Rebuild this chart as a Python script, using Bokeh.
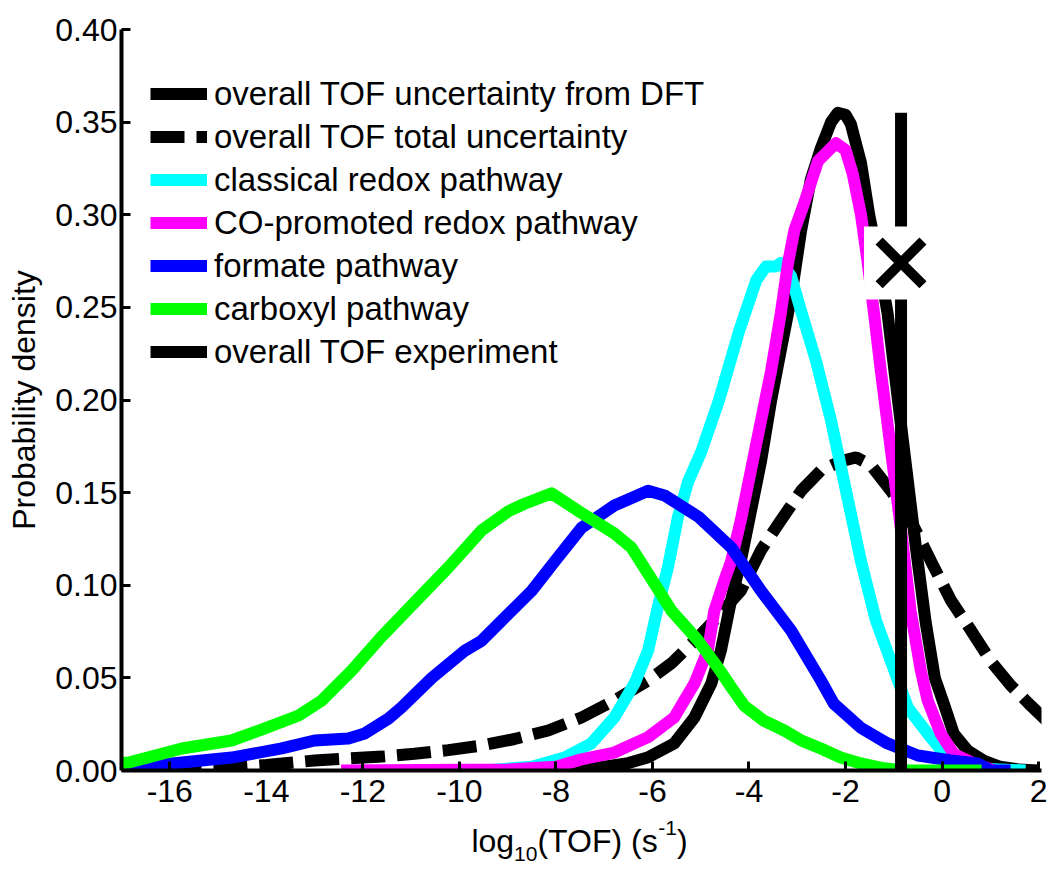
from bokeh.plotting import figure
from bokeh.layouts import column
from bokeh.models import (Range1d, FixedTicker, NumeralTickFormatter, Legend,
                          LegendItem)
from bokeh.core.properties import value
from bokeh.embed import file_html
from bokeh.resources import INLINE

FONT = "Liberation Sans"

# Probability densities over log10(TOF)
dft_x = [-9.0, -7.5, -7.0, -6.5, -6.1, -5.55, -5.13, -4.78, -4.58, -4.44, -4.37,
         -4.17, -3.96, -3.75, -3.54, -3.34, -3.13, -2.92, -2.72, -2.51, -2.3,
         -2.16, -2.0, -1.89, -1.68, -1.51, -1.31, -1.13, -0.96, -0.75, -0.54,
         -0.34, -0.15, 0.05, 0.24, 0.53, 0.86, 1.2, 1.6, 2.0]
dft_y = [0.0, 0.001, 0.002, 0.004, 0.007, 0.0146, 0.0286, 0.047, 0.065, 0.083, 0.092,
         0.113, 0.14, 0.167, 0.2, 0.227, 0.255, 0.2916, 0.319, 0.336, 0.35,
         0.355, 0.354, 0.349, 0.328, 0.30, 0.274, 0.247, 0.21, 0.165, 0.12,
         0.08, 0.05, 0.035, 0.02, 0.0108, 0.0054, 0.002, 0.0005, 0.0]

total_x = [-17.0, -15.0, -14.0, -13.0, -12.3, -11.6, -10.93, -10.23, -9.54, -8.86,
           -8.16, -7.47, -6.79, -6.09, -5.61, -5.05, -4.72, -4.17, -3.75, -3.34,
           -2.92, -2.51, -2.09, -1.78, -1.48, -1.06, -0.65, -0.23, 0.18, 0.6,
           1.01, 1.42, 1.84, 2.2]
total_y = [0.0, 0.001, 0.003, 0.0054, 0.0065, 0.0075, 0.009, 0.011, 0.0135, 0.017,
           0.0216, 0.0286, 0.0378, 0.0486, 0.0578, 0.072, 0.081, 0.097, 0.119, 0.135,
           0.151, 0.162, 0.167, 0.169, 0.165, 0.151, 0.135, 0.113, 0.092, 0.0756,
           0.059, 0.046, 0.035, 0.026]

classical_x = [-9.5, -8.5, -7.82, -7.27, -6.79, -6.37, -6.09, -5.89, -5.68, -5.47,
               -5.26, -4.99, -4.62, -4.2, -3.85, -3.65, -3.45, -3.34, -3.13, -2.92,
               -2.61, -2.3, -1.99, -1.68, -1.37, -1.06, -0.71, -0.3, 0.04, 0.39,
               0.8, 1.73]
classical_y = [0.0, 0.002, 0.007, 0.0146, 0.0286, 0.047, 0.0648, 0.088, 0.1096, 0.137,
               0.156, 0.172, 0.2, 0.2376, 0.2646, 0.272, 0.272, 0.274, 0.267, 0.248,
               0.221, 0.189, 0.151, 0.113, 0.081, 0.059, 0.034, 0.02, 0.009, 0.004,
               0.001, 0.0]

co_x = [-12.45, -9.0, -8.0, -7.47, -6.79, -6.09, -5.55, -5.13, -4.85, -4.72, -4.51,
        -4.37, -4.17, -3.96, -3.75, -3.54, -3.34, -3.19, -3.06, -2.86, -2.57, -2.2,
        -2.0, -1.85, -1.68, -1.54, -1.41, -1.27, -1.06, -0.85, -0.65, -0.44, -0.3,
        -0.03, 0.24, 0.65, 1.07]
co_y = [0.0, 0.0005, 0.002, 0.006, 0.0097, 0.018, 0.0286, 0.047, 0.065, 0.086, 0.1026,
        0.113, 0.135, 0.162, 0.189, 0.216, 0.247, 0.274, 0.2916, 0.306, 0.329, 0.3386,
        0.335, 0.322, 0.30, 0.274, 0.247, 0.216, 0.173, 0.13, 0.086, 0.054, 0.038,
        0.02, 0.009, 0.004, 0.0]

formate_x = [-17.0, -15.75, -14.72, -13.68, -13.0, -12.3, -11.96, -11.47, -11.2,
             -10.57, -9.88, -9.54, -9.12, -8.5, -8.02, -7.47, -6.79, -6.09, -5.75,
             -5.05, -4.37, -3.75, -3.13, -2.51, -2.24, -1.68, -1.13, -0.5, 0.18,
             0.74, 1.0, 1.42]
formate_y = [0.001, 0.0043, 0.007, 0.0119, 0.0162, 0.0173, 0.02, 0.028, 0.034,
             0.05, 0.0648, 0.07, 0.081, 0.097, 0.113, 0.131, 0.143, 0.151, 0.1485,
             0.137, 0.1205, 0.097, 0.0756, 0.0486, 0.036, 0.023, 0.0146, 0.0081, 0.0054,
             0.0038, 0.0, 0.0]

carboxyl_x = [-17.0, -16.85, -15.75, -14.72, -14.03, -13.33, -12.85, -12.23, -11.62,
              -10.93, -10.23, -9.54, -8.98, -8.65, -8.09, -7.47, -6.79, -6.44, -5.96,
              -5.61, -5.05, -4.6, -4.37, -4.1, -3.7, -3.27, -2.9, -2.51, -2.1, -1.68,
              -1.2, -0.8, 0.82]
carboxyl_y = [0.004, 0.0043, 0.0119, 0.0162, 0.0227, 0.0297, 0.0378, 0.054, 0.072,
              0.0907, 0.1096, 0.1296, 0.14, 0.144, 0.1496, 0.139, 0.128, 0.1205, 0.101,
              0.0864, 0.07, 0.054, 0.045, 0.035, 0.027, 0.0216, 0.016, 0.0119, 0.007,
              0.0038, 0.0012, 0.0, 0.0]

# Experimental TOF
exp_log_tof = -0.85
exp_line_top = 0.355
exp_marker_y = 0.274

x_ticks = [-16, -14, -12, -10, -8, -6, -4, -2, 0, 2]
y_ticks = [0.0, 0.05, 0.10, 0.15, 0.20, 0.25, 0.30, 0.35, 0.40]

legend_labels = ["overall TOF uncertainty from DFT",
                 "overall TOF total uncertainty",
                 "classical redox pathway",
                 "CO-promoted redox pathway",
                 "formate pathway",
                 "carboxyl pathway",
                 "overall TOF experiment"]

W = 1051
H1 = 816
p = figure(width=W, height=H1, x_range=Range1d(-17, 2.06), y_range=Range1d(0, 0.40),
           output_backend="svg", toolbar_location=None, frame_align=False,
           min_border_left=121, min_border_right=10, min_border_top=29,
           min_border_bottom=H1 - 770)
p.background_fill_color = "white"
p.border_fill_color = "white"
p.outline_line_color = None
p.xgrid.visible = False
p.ygrid.visible = False

for ax in (p.xaxis[0], p.yaxis[0]):
    ax.axis_line_width = 4
    ax.axis_line_color = "black"
    ax.major_tick_line_width = 3
    ax.major_tick_line_color = "black"
    ax.major_tick_in = 9
    ax.major_tick_out = 0
    ax.minor_tick_in = 0
    ax.minor_tick_out = 0
    ax.major_label_text_font = FONT
    ax.major_label_text_font_size = "32px"
    ax.major_label_text_color = "black"

p.xaxis.ticker = FixedTicker(ticks=x_ticks)
p.xaxis.major_label_overrides = {t: str(t) for t in x_ticks}
p.yaxis.ticker = FixedTicker(ticks=y_ticks)
p.yaxis.formatter = NumeralTickFormatter(format="0.00")
p.xaxis.major_label_standoff = 9
p.yaxis.major_label_standoff = 4
p.yaxis.axis_label = "Probability density"
p.yaxis.axis_label_text_font = FONT
p.yaxis.axis_label_text_font_size = "32px"
p.yaxis.axis_label_text_font_style = "normal"
p.yaxis.axis_label_text_color = "black"
p.yaxis.axis_label_standoff = 10

LW = 12
r_dft = p.line(dft_x, dft_y, line_color="black", line_width=LW, line_join="round")
r_tot = p.line(total_x, total_y, line_color="black", line_width=LW, line_dash="34 12")
r_cls = p.line(classical_x, classical_y, line_color="#00FFFF", line_width=LW, line_join="round")
r_co = p.line(co_x, co_y, line_color="#FF00FF", line_width=LW, line_join="round")
r_fmt = p.line(formate_x, formate_y, line_color="#0000FF", line_width=LW, line_join="round")
r_cbx = p.line(carboxyl_x, carboxyl_y, line_color="#00FF00", line_width=LW, line_join="round")
r_exp = p.line([exp_log_tof, exp_log_tof], [0, exp_line_top], line_color="black", line_width=LW)

# white patch behind the experimental marker
p.rect(x=[exp_log_tof], y=[exp_marker_y], width=74, height=73,
       width_units="screen", height_units="screen",
       fill_color="white", line_color=None)
p.scatter(x=[exp_log_tof], y=[exp_marker_y], marker="x", size=62,
          line_width=10, line_color="black")

renderers = [r_dft, r_tot, r_cls, r_co, r_fmt, r_cbx, r_exp]
legend = Legend(items=[LegendItem(label=t, renderers=[r]) for t, r in zip(legend_labels, renderers)],
                location=(29, 397), orientation="vertical",
                glyph_width=57, glyph_height=43, label_height=43, label_standoff=7,
                spacing=0, padding=0, margin=0,
                border_line_color=None, background_fill_alpha=0,
                label_text_font=FONT, label_text_font_size="33px", label_text_color="black")
p.add_layout(legend)

# x-axis title strip: log10(TOF) (s^-1) with sub/superscript, in pixel coordinates
H2 = 869 - H1
t = figure(width=W, height=H2, x_range=Range1d(0, W), y_range=Range1d(0, H2),
           x_axis_type=None, y_axis_type=None, output_backend="svg", toolbar_location=None,
           frame_align=False,
           min_border_left=0, min_border_right=0, min_border_top=0, min_border_bottom=0)
t.outline_line_color = None
t.xgrid.visible = False
t.ygrid.visible = False
t.background_fill_color = "white"
t.border_fill_color = "white"

# Arial-compatible advance widths (per 1000 em)
ADV = {"l": 222, "o": 556, "g": 556, "1": 556, "0": 556, "(": 333, ")": 333,
       "T": 611, "O": 778, "F": 611, " ": 278, "s": 500, "-": 333}
MAIN, SMALL = 32, 21
pieces = [("log", MAIN, 29), ("10", SMALL, 16), ("(TOF) (s", MAIN, 29),
          ("-1", SMALL, 42), (")", MAIN, 29)]
widths = [sum(ADV[c] for c in s) * fs / 1000 for s, fs, _ in pieces]
cx = 579
x0 = cx - sum(widths) / 2
for (s, fs, yb), w in zip(pieces, widths):
    t.text(x=[x0], y=[yb], text=[s], text_font=value(FONT), text_font_size=f"{fs}px",
           text_color="black", text_align="left", text_baseline="alphabetic")
    x0 += w

open("out.html", "w").write(file_html(column(p, t, spacing=0), INLINE))
